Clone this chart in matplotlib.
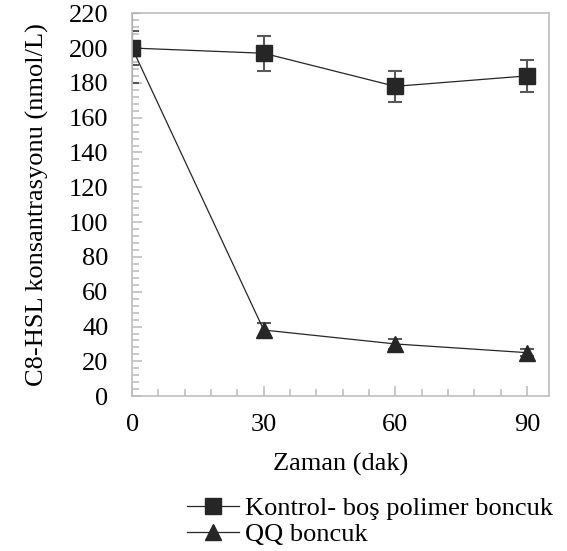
import numpy as np
import matplotlib.pyplot as plt
from matplotlib.ticker import MultipleLocator
from matplotlib.lines import Line2D

plt.rcParams['font.family'] = ['Liberation Serif', 'DejaVu Serif']

zaman = [0, 30, 60, 90]
kontrol = [200, 197, 178, 184]
kontrol_err = [20, 10, 9, 9]
qq = [200, 38, 30, 25]
qq_err = [10, 4, 3, 2]
labels = ['Kontrol- boş polimer boncuk', 'QQ boncuk']

fig = plt.figure(figsize=(5.67, 5.51), dpi=100)
ax = fig.add_axes([0.233, 0.281, 0.735, 0.695])

gray = '#bfbfbf'
dark = '#262626'
ax.errorbar(zaman, kontrol, yerr=kontrol_err, color=dark, marker='s', ms=12,
            lw=0.9, ecolor='#595959', elinewidth=1.5, capsize=5, capthick=1.5)
ax.errorbar(zaman, qq, yerr=qq_err, color=dark, marker='^', ms=12,
            lw=0.9, ecolor='#595959', elinewidth=1.5, capsize=5, capthick=1.5)

ax.set_xlim(0, 95)
ax.set_ylim(0, 220)
ax.set_xticks(zaman)
ax.yaxis.set_major_locator(MultipleLocator(20))
ax.xaxis.set_minor_locator(MultipleLocator(6))
ax.yaxis.set_minor_locator(MultipleLocator(4))
ax.tick_params(which='both', direction='in', color=gray, labelsize=19, width=1.2)
ax.tick_params(which='major', length=7)
ax.tick_params(which='minor', length=5)
ax.tick_params(axis='x', pad=13)
ax.tick_params(axis='y', pad=17)
for s in ax.spines.values():
    s.set_color(gray)
    s.set_linewidth(1.2)

ax.set_xlabel('Zaman (dak)', fontsize=19, labelpad=12)
ax.set_ylabel('C8-HSL konsantrasyonu (nmol/L)', fontsize=19, labelpad=14)

handles = [Line2D([], [], color=dark, marker='s', ms=12, lw=0.9),
           Line2D([], [], color=dark, marker='^', ms=12, lw=0.9)]
fig.legend(handles, labels, loc='upper left', bbox_to_anchor=(0.33, 0.099),
           frameon=False, fontsize=19, handlelength=1.95, handletextpad=0.25,
           borderpad=0, borderaxespad=0, labelspacing=0.1)

fig.savefig('out.png', dpi=100)
